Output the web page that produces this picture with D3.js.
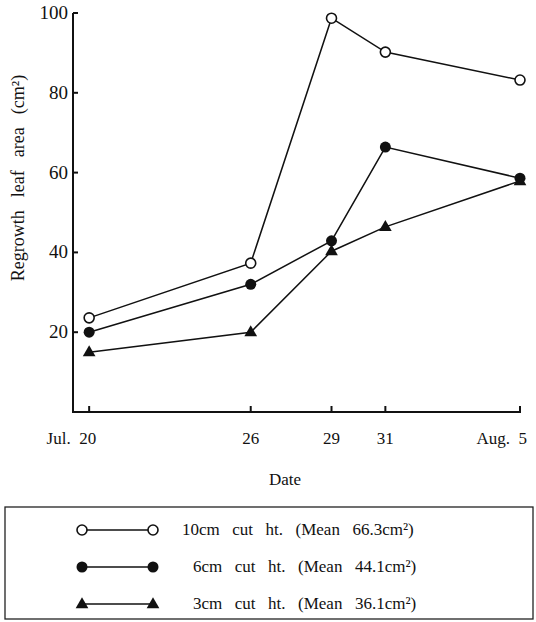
<!DOCTYPE html>
<meta charset="utf-8">
<style>
    body { margin: 0; background: #fff; }
    text { font-family: "Liberation Serif", "Times New Roman", serif; fill: #111; white-space: pre; }
    .series { fill: none; stroke: #111; stroke-width: 1.5; }
</style>
<body>
<script src="https://cdn.jsdelivr.net/npm/d3@7"></script>
<script>
    // days after Jul. 20
    var days = [0, 6, 9, 11, 16];
    var dayLabels = ["Jul.  20", "26", "29", "31", "Aug.  5"];
    var yTicks = [20, 40, 60, 80, 100];

    var cut10 = [23.6, 37.3, 98.7, 90.2, 83.2];
    var cut6 = [20.0, 32.0, 42.9, 66.4, 58.6];
    var cut3 = [15.0, 20.0, 40.3, 46.4, 57.9];

    var seriesNames = ["10cm  cut  ht.  (Mean  66.3cm²)", "6cm  cut  ht.  (Mean  44.1cm²)", "3cm  cut  ht.  (Mean  36.1cm²)"];
    var seriesShapes = ["open", "dot", "tri"];

    var width = 536, height = 622;

    var svg = d3.select("body").append("svg")
        .attr("width", width)
        .attr("height", height);

    var x = d3.scaleLinear().domain([-0.6, 16]).range([73, 520]);
    var y = d3.scaleLinear().domain([0, 100]).range([412, 13]);

    // axes, ticks pointing inward
    svg.append("line")
        .attr("x1", x(-0.6)).attr("x2", x(-0.6)).attr("y1", y(100)).attr("y2", y(0))
        .style("stroke", "#111").style("stroke-width", 2);
    svg.append("line")
        .attr("x1", x(-0.6) - 1).attr("x2", x(16) + 1).attr("y1", y(0)).attr("y2", y(0))
        .style("stroke", "#111").style("stroke-width", 2);

    svg.selectAll(".ytick").data(yTicks).enter().append("line")
        .attr("class", "ytick")
        .attr("x1", x(-0.6)).attr("x2", x(-0.6) + 5)
        .attr("y1", d => y(d)).attr("y2", d => y(d))
        .style("stroke", "#111").style("stroke-width", 2);
    svg.selectAll(".ylab").data(yTicks).enter().append("text")
        .attr("class", "ylab")
        .attr("x", x(-0.6) - 5).attr("y", d => y(d) + 6)
        .attr("text-anchor", "end")
        .style("font-size", "19px")
        .text(d => d);

    svg.selectAll(".xtick").data(days).enter().append("line")
        .attr("class", "xtick")
        .attr("x1", d => x(d)).attr("x2", d => x(d))
        .attr("y1", y(0)).attr("y2", y(0) - 6)
        .style("stroke", "#111").style("stroke-width", 2);
    svg.selectAll(".xlab").data(days).enter().append("text")
        .attr("class", "xlab")
        .attr("x", d => x(d)).attr("y", 444)
        .attr("text-anchor", (d, i) => (i == 0 || i == days.length - 1) ? "end" : "middle")
        .attr("dx", (d, i) => (i == 0 || i == days.length - 1) ? 7 : 0)
        .style("font-size", "17px")
        .text((d, i) => dayLabels[i]);

    svg.append("text")
        .attr("x", 285).attr("y", 485)
        .attr("text-anchor", "middle")
        .style("font-size", "17px")
        .text("Date");

    svg.append("text")
        .attr("transform", "translate(24,178) rotate(-90)")
        .attr("text-anchor", "middle")
        .style("font-size", "18px")
        .style("word-spacing", "2px")
        .text("Regrowth  leaf  area  (cm²)");

    var line = d3.line().x((d, i) => x(days[i])).y(d => y(d));

    function drawMarker(g, shape, cx, cy) {
        if (shape == "open") {
            g.append("circle").attr("cx", cx).attr("cy", cy).attr("r", 5)
                .style("fill", "#fff").style("stroke", "#111").style("stroke-width", 1.6);
        } else if (shape == "dot") {
            g.append("circle").attr("cx", cx).attr("cy", cy).attr("r", 5.5)
                .style("fill", "#111");
        } else {
            g.append("path")
                .attr("d", d3.symbol().type(d3.symbolTriangle).size(70)())
                .attr("transform", "translate(" + cx + "," + (cy + 0.5) + ")")
                .style("fill", "#111");
        }
    }

    var allSeries = [cut10, cut6, cut3];
    allSeries.forEach(function(vals, k) {
        svg.append("path").datum(vals).attr("class", "series").attr("d", line);
        var g = svg.append("g");
        vals.forEach(function(v, i) {
            drawMarker(g, seriesShapes[k], x(days[i]), y(v));
        });
    });

    // legend box
    svg.append("rect")
        .attr("x", 5).attr("y", 507).attr("width", 528).attr("height", 112)
        .style("fill", "none").style("stroke", "#222").style("stroke-width", 1.3);

    var legY = [530, 567, 604];
    var legTextX = [182, 193, 193];
    seriesNames.forEach(function(name, k) {
        var g = svg.append("g");
        g.append("line").attr("x1", 82).attr("x2", 153).attr("y1", legY[k]).attr("y2", legY[k])
            .style("stroke", "#111").style("stroke-width", 1.5);
        drawMarker(g, seriesShapes[k], 82, legY[k]);
        drawMarker(g, seriesShapes[k], 153, legY[k]);
        g.append("text")
            .attr("x", legTextX[k]).attr("y", legY[k] + 5)
            .style("font-size", "17px")
            .style("word-spacing", "2px")
            .text(name);
    });
</script>
</body>
